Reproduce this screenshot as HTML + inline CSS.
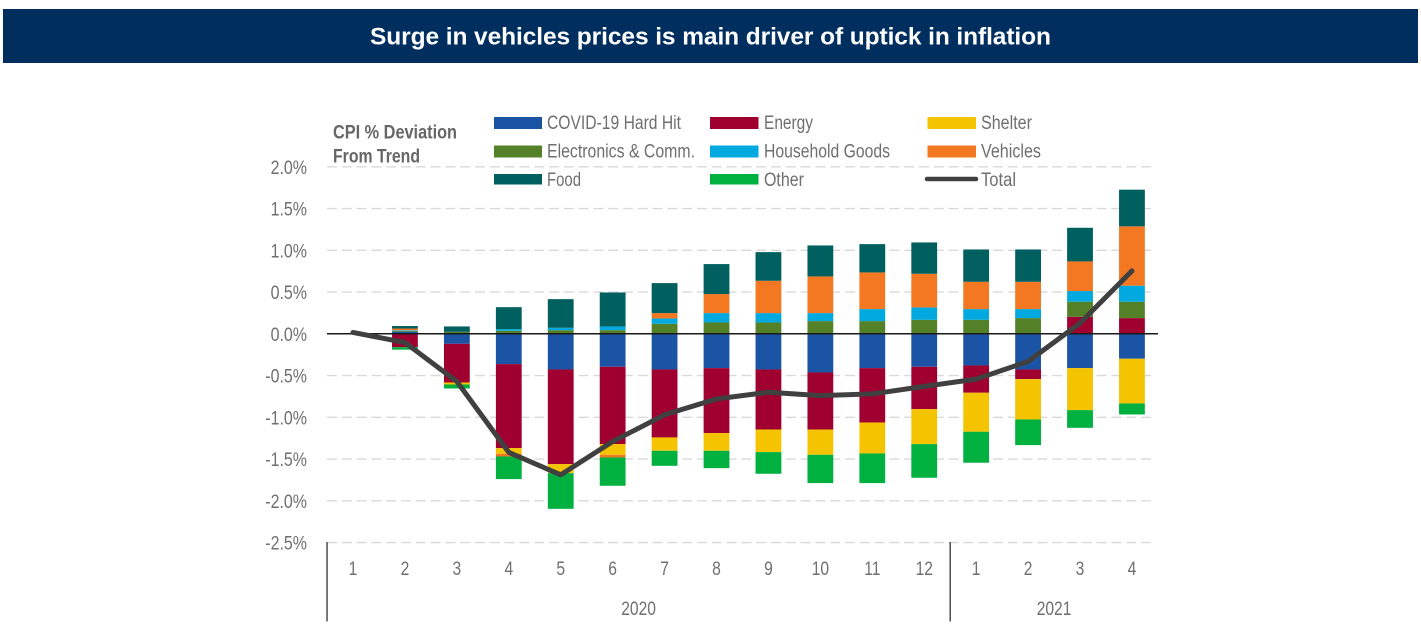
<!DOCTYPE html>
<html lang="en">
<head>
<meta charset="utf-8">
<title>Surge in vehicles prices is main driver of uptick in inflation</title>
<style>
html,body{margin:0;padding:0;background:#fff;width:1421px;height:635px;overflow:hidden}
svg{display:block;font-family:"Liberation Sans",sans-serif}
.lg{font-size:19px;fill:#6f6f6f}
.ct{font-size:19px;font-weight:bold;fill:#666}
</style>
</head>
<body>
<svg id="chart" width="1421" height="635" viewBox="0 0 1421 635" xmlns="http://www.w3.org/2000/svg">
  <rect x="3" y="9" width="1415" height="54" fill="#002f5f"/>
  <text x="370" y="44.5" font-size="24.5" font-weight="bold" fill="#fff" textLength="681" lengthAdjust="spacing">Surge in vehicles prices is main driver of uptick in inflation</text>
  <g id="grid"></g>
  <g id="ylabels"></g>
  <g id="bars"></g>
  <g id="axes"></g>
  <g id="xlabels"></g>
  <g>
    <text class="ct" x="333" y="138.5" textLength="124" lengthAdjust="spacingAndGlyphs">CPI % Deviation</text>
    <text class="ct" x="333" y="162.5" textLength="87" lengthAdjust="spacingAndGlyphs">From Trend</text>
  </g>
  <g>
    <g><rect x="494" y="117" width="48" height="12" fill="#1c54a5"/><text class="lg" x="547" y="129" textLength="134" lengthAdjust="spacingAndGlyphs">COVID-19 Hard Hit</text></g>
    <g><rect x="710" y="117" width="48.5" height="12" fill="#a00030"/><text class="lg" x="764" y="129" textLength="49" lengthAdjust="spacingAndGlyphs">Energy</text></g>
    <g><rect x="927.5" y="117" width="48.5" height="12" fill="#f5c400"/><text class="lg" x="981" y="129" textLength="51" lengthAdjust="spacingAndGlyphs">Shelter</text></g>
    <g><rect x="494" y="145.500" width="48" height="12" fill="#548127"/><text class="lg" x="547" y="157.500" textLength="148" lengthAdjust="spacingAndGlyphs">Electronics &amp; Comm.</text></g>
    <g><rect x="710" y="145.500" width="48.5" height="12" fill="#00a9e0"/><text class="lg" x="764" y="157.500" textLength="126" lengthAdjust="spacingAndGlyphs">Household Goods</text></g>
    <g><rect x="927.5" y="145.500" width="48.5" height="12" fill="#f47721"/><text class="lg" x="981" y="157.500" textLength="60" lengthAdjust="spacingAndGlyphs">Vehicles</text></g>
    <g><rect x="494" y="174" width="48" height="10.500" fill="#005f5f"/><text class="lg" x="547" y="186" textLength="34" lengthAdjust="spacingAndGlyphs">Food</text></g>
    <g><rect x="710" y="174" width="48.5" height="10.500" fill="#00b140"/><text class="lg" x="764" y="186" textLength="40" lengthAdjust="spacingAndGlyphs">Other</text></g>
    <g><line x1="927" y1="179" x2="976" y2="179" stroke="#404040" stroke-width="4.500" stroke-linecap="round"/><text class="lg" x="981" y="186" textLength="35" lengthAdjust="spacingAndGlyphs">Total</text></g>
  </g>
</svg>
<script>
const months = ['1','2','3','4','5','6','7','8','9','10','11','12','1','2','3','4'];
const years = ['2020','2021'];
const yearCounts = [12,4];
const yTicks = [2,1.5,1,0.5,0,-0.5,-1,-1.5,-2,-2.5];
const covid = [0,.025,-.12,-.363,-.427,-.395,-.427,-.411,-.427,-.463,-.411,-.395,-.379,-.427,-.411,-.299];
const energy = [0,-.16,-.463,-1.006,-1.134,-.926,-.814,-.778,-.719,-.683,-.651,-.507,-.327,-.116,.204,.188];
const shelter = [0,0,-.024,-.068,-.108,-.128,-.16,-.212,-.271,-.303,-.371,-.419,-.467,-.483,-.503,-.535];
const electronics = [0,.01,.024,.036,.044,.044,.12,.136,.136,.152,.152,.168,.168,.188,.18,.196];
const household = [0,.008,0,.02,.028,.044,.064,.112,.112,.096,.144,.148,.128,.108,.128,.192];
const vehicles = [0,.02,0,-.032,0,-.032,.064,.228,.387,.439,.439,.403,.327,.327,.355,.711];
const food = [0,.03,.064,.263,.343,.407,.359,.359,.343,.371,.339,.375,.387,.387,.403,.439];
const other = [0,-.03,-.048,-.271,-.427,-.339,-.18,-.208,-.259,-.339,-.355,-.403,-.371,-.307,-.212,-.132];
const total = [.016,-.104,-.571,-1.42,-1.689,-1.29,-.97,-.78,-.70,-.74,-.72,-.63,-.543,-.331,.128,.754];

const seriesList = [
  {key:'covid', values:covid, color:'#1c54a5'},
  {key:'energy', values:energy, color:'#a00030'},
  {key:'shelter', values:shelter, color:'#f5c400'},
  {key:'electronics', values:electronics, color:'#548127'},
  {key:'household', values:household, color:'#00a9e0'},
  {key:'vehicles', values:vehicles, color:'#f47721'},
  {key:'food', values:food, color:'#005f5f'},
  {key:'other', values:other, color:'#00b140'}
];

const NS = 'http://www.w3.org/2000/svg';
const yScale = v => 333.8 - 83.5 * v;
const xScale = i => 353 + 51.93 * i;
const barW = 25.8;
const leftX = 327, rightX = 1156;

function make(tag, parentId, attrs){
  const el = document.createElementNS(NS, tag);
  for (const k in attrs) el.setAttribute(k, attrs[k]);
  document.getElementById(parentId).appendChild(el);
  return el;
}
function label(parentId, x, y, str, anchor, scale){
  const el = make('text', parentId, {x:x, y:y, 'text-anchor':anchor, 'font-size':19, fill:'#6f6f6f'});
  el.textContent = str;
  el.setAttribute('textLength', (el.getComputedTextLength() * scale).toFixed(1));
  el.setAttribute('lengthAdjust', 'spacingAndGlyphs');
  return el;
}

yTicks.forEach(t => {
  if (t !== 0) {
    const g = make('line', 'grid', {x1:leftX, x2:rightX, y1:yScale(t), y2:yScale(t), stroke:'#d9d9d9', 'stroke-width':1.3, 'stroke-dasharray':'10 4.8'});
    
    
  }
  const tl = label('ylabels', 307, yScale(t) + 7, t.toFixed(1) + '%', 'end', 0.84);
  
  
});

months.forEach((m, i) => {
  let up = 0, down = 0;
  seriesList.forEach(s => {
    const v = s.values[i];
    if (!v) return;
    let top, bottom;
    if (v > 0) { top = yScale(up + v); bottom = yScale(up); up += v; }
    else { top = yScale(down); bottom = yScale(down + v); down += v; }
    const r = make('rect', 'bars', {x:xScale(i) - barW / 2, y:top, width:barW, height:bottom - top, fill:s.color});
    
    
  });
  const ml = label('xlabels', xScale(i), 575, m, 'middle', 0.82);
  
  
});

let startIndex = 0;
years.forEach((y, j) => {
  const count = yearCounts[j];
  const left = xScale(startIndex) - 51.93 / 2;
  const right = xScale(startIndex + count - 1) + 51.93 / 2;
  const yl = label('xlabels', (left + right) / 2, 615, y, 'middle', 0.82);
  
  
  const sep = make('line', 'axes', {x1:left, x2:left, y1:542, y2:621.500, stroke:'#404040', 'stroke-width':1.4});
  
  
  startIndex += count;
});

const zero = make('line', 'axes', {x1:leftX, x2:rightX + 2, y1:yScale(0), y2:yScale(0), stroke:'#1a1a1a', 'stroke-width':1.5});



const totalLine = make('polyline', 'axes', {
  points: total.map((v, i) => xScale(i) + ',' + yScale(v)).join(' '),
  fill:'none', stroke:'#404040', 'stroke-width':5, 'stroke-linejoin':'round', 'stroke-linecap':'round'
});


</script>
</body>
</html>
